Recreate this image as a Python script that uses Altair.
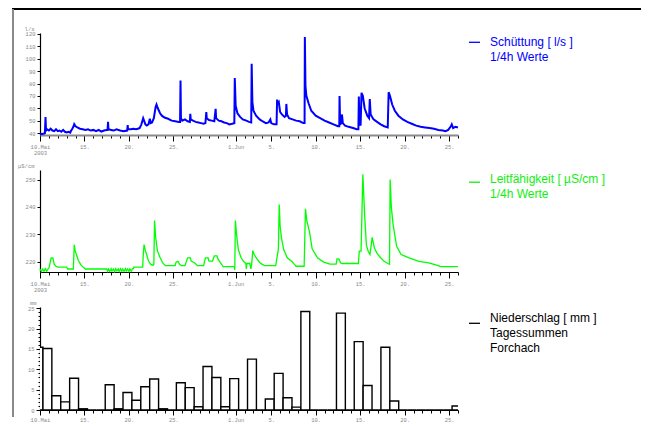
import json
import altair as alt
import pandas as pd

# ---------------------------------------------------------------- data
# time axis: days after 10 May 2003 00:00
ORIGIN = "2003-05-10"
X_END_DATE = "2003-06-26"

# Schüttung (l/s), 1/4h values (vertices)
Q_DAYS = [0.0, 0.3, 0.55, 0.62, 0.68, 0.8, 1.0, 1.2, 1.4, 1.6, 1.8, 2.0, 2.2, 2.4, 2.6, 2.8,
          3.0, 3.2, 3.4, 3.5, 3.6, 3.75, 3.85, 4.0, 4.2, 4.5, 4.8, 5.1, 5.4, 5.7, 6.0, 6.3,
          6.6, 6.9, 7.2, 7.5, 7.6, 7.65, 7.7, 8.0, 8.3, 8.6, 9.0, 9.4, 9.8, 9.86, 9.9, 10.2,
          10.5, 10.8, 11.0, 11.2, 11.4, 11.6, 11.7, 11.85, 12.0, 12.2, 12.35, 12.45, 12.6,
          12.8, 13.0, 13.1, 13.25, 13.5, 13.7, 14.0, 14.4, 14.8, 15.2, 15.6, 15.75, 15.8,
          15.85, 16.0, 16.3, 16.6, 16.85, 16.9, 16.95, 17.2, 17.5, 17.8, 18.1, 18.4, 18.6,
          18.7, 18.75, 19.0, 19.3, 19.6, 19.75, 19.8, 20.1, 20.4, 20.7, 21.0, 21.3, 21.6,
          21.85, 21.9, 22.0, 22.2, 22.5, 22.8, 23.2, 23.5, 23.75, 23.8, 23.88, 24.0, 24.3,
          24.7, 25.0, 25.4, 25.7, 25.9, 26.0, 26.3, 26.6, 26.66, 26.75, 26.85, 27.0, 27.2,
          27.5, 27.65, 27.7, 27.78, 28.0, 28.4, 28.8, 29.2, 29.6, 29.75, 29.78, 29.85, 29.95,
          30.2, 30.5, 31.0, 31.5, 32.0, 32.5, 33.0, 33.5, 33.65, 33.68, 33.75, 33.9, 33.95,
          34.05, 34.3, 34.7, 35.2, 35.6, 35.8, 35.85, 35.92, 36.05, 36.15, 36.3, 36.5, 36.8,
          37.0, 37.08, 37.18, 37.5, 37.9, 38.3, 38.7, 39.1, 39.2, 39.35, 39.6, 39.9, 40.3,
          40.8, 41.3, 41.8, 42.3, 42.8, 43.3, 43.8, 44.3, 44.8, 45.3, 45.6, 45.9, 46.2, 46.3,
          46.45, 46.7, 47.0]
Q_VALUES = [39.5, 39.2, 39.8, 53.0, 42.0, 43.0, 42.0, 43.5, 42.0, 41.5, 43.0, 41.5, 42.0, 41.0, 42.5, 41.0,
            40.5, 41.0, 40.3, 42.0, 43.0, 45.0, 47.2, 45.5, 44.5, 43.5, 43.0, 42.5, 43.0, 42.0, 42.5, 41.5,
            42.5, 41.2, 42.0, 42.5, 42.5, 49.0, 43.0, 42.5, 42.0, 43.0, 42.0, 41.5, 42.0, 46.5, 43.0, 43.0,
            43.5, 43.0, 43.5, 44.0, 47.0, 52.0, 50.0, 47.0, 46.0, 47.0, 51.5, 48.0, 48.5,
            52.0, 61.0, 63.0, 60.0, 56.0, 54.0, 52.5, 51.5, 50.0, 49.5, 49.0, 49.0, 82.5,
            52.0, 50.0, 51.0, 49.5, 49.0, 55.5, 51.0, 50.0, 49.0, 48.5, 48.0, 47.5, 48.0,
            57.0, 52.0, 50.5, 50.0, 49.5, 59.5, 52.0, 50.0, 49.5, 48.5, 48.0, 47.0, 47.5,
            48.0, 84.5, 62.0, 56.0, 53.0, 51.0, 50.0, 49.0, 48.5, 96.0, 65.0, 58.0, 54.0,
            51.0, 49.5, 48.0, 48.5, 51.0, 48.0, 47.0, 47.0, 67.0, 64.0, 65.0, 57.0, 55.0,
            53.0, 54.0, 63.5, 55.0, 52.0, 51.0, 50.0, 49.5, 48.0, 48.0, 117.5, 78.0, 70.0,
            64.0, 58.0, 54.0, 52.0, 50.0, 48.5, 47.0, 45.5, 45.5, 69.8, 47.0, 48.0, 55.0,
            48.0, 46.0, 45.0, 44.0, 43.0, 43.0, 69.5, 48.0, 46.0, 72.5, 70.0, 60.0, 54.0,
            52.0, 67.5, 55.0, 51.0, 49.0, 47.0, 45.5, 44.5, 73.0, 70.0, 63.0, 58.0, 54.0,
            51.0, 49.0, 47.5, 46.0, 45.0, 44.5, 44.0, 43.5, 42.5, 42.0, 41.5, 42.5, 45.5, 47.0,
            44.0, 45.0, 44.5]

# Leitfähigkeit (µS/cm), 1/4h values
LF_DAYS = [0.0, 0.15, 0.3, 0.45, 0.6, 0.75, 0.9, 1.0, 1.1, 1.25, 1.45, 1.6, 1.8, 2.0, 3.0, 3.1,
           3.75, 3.85, 3.95, 4.1, 4.3, 4.6, 4.9, 5.1, 7.5, 7.6, 7.7, 7.85, 8.0, 8.1, 8.25, 8.4,
           8.5, 8.65, 8.8, 8.9, 9.05, 9.2, 9.3, 9.45, 9.6, 9.7, 9.85, 10.0, 10.1, 10.25, 10.4,
           10.5, 10.55, 11.55, 11.6, 11.7, 11.85, 12.0, 12.2, 12.45, 12.7, 12.8, 12.88, 13.0,
           13.2, 13.5, 13.8, 14.1, 15.2, 15.3, 15.5, 15.7, 15.9, 16.3, 16.6, 16.9, 17.0, 17.4,
           17.7, 18.4, 18.6, 18.9, 19.0, 19.4, 19.6, 19.9, 20.0, 20.3, 20.6, 21.85, 21.9, 21.97,
           22.1, 22.3, 22.6, 22.9, 23.15, 23.2, 23.25, 23.6, 23.7, 23.8, 23.92, 24.1, 24.4,
           24.7, 25.0, 25.3, 26.5, 26.8, 26.9, 27.0, 27.15, 27.4, 27.8, 28.3, 28.6, 28.8,
           29.7, 29.85, 30.0, 30.3, 30.6, 31.2, 31.9, 32.6, 33.3, 33.4, 33.6, 33.8, 34.0,
           35.8, 35.9, 36.1, 36.3, 36.5, 36.7, 36.9, 37.1, 37.35, 37.6, 37.9, 38.3, 38.7,
           39.1, 39.3, 39.37, 39.5, 39.7, 40.1, 40.6, 41.5, 42.6, 43.7, 44.8, 45.0, 47.0]
LF_VALUES = [217.3, 216.4, 217.3, 216.5, 217.4, 216.5, 217.3, 217.5, 219.0, 221.4, 221.4, 219.0, 218.3, 218.0, 218.0, 217.3,
             217.3, 226.2, 224.0, 222.5, 220.5, 218.8, 217.8, 217.3, 217.3, 216.5, 217.3, 216.4, 217.4, 216.6, 217.3, 216.3,
             217.4, 216.6, 217.3, 216.4, 217.4, 216.5, 217.3, 216.4, 217.4, 216.6, 217.3, 216.4, 217.3, 216.5, 217.4,
             217.4, 218.0, 218.0, 222.0, 226.2, 224.0, 222.5, 220.2, 219.0, 218.7, 219.0, 235.0, 229.0,
             224.0, 221.5, 219.5, 218.5, 218.5, 219.8, 220.1, 219.0, 218.5, 218.5, 221.4, 221.4, 220.2, 219.5,
             218.5, 218.5, 221.4, 221.4, 220.2, 220.2, 222.1, 222.1, 221.0, 219.5, 218.2, 218.2, 217.0, 235.0,
             230.0, 224.4, 221.5, 220.0, 219.3, 217.3, 219.3, 219.3, 217.3, 219.0, 224.0, 222.5, 221.0,
             219.7, 219.0, 218.5, 218.5, 224.5, 240.9, 233.0, 228.7, 224.4, 221.4, 220.1, 219.0, 218.3,
             218.3, 239.3, 235.0, 231.0, 224.7, 221.4, 219.8, 219.1, 219.1, 221.0, 221.0, 219.5, 219.3,
             219.3, 223.8, 223.8, 251.9, 237.2, 226.0, 223.8, 222.6, 228.9, 225.0, 223.0, 221.4, 220.1,
             219.3, 219.0, 250.0, 240.0, 233.6, 225.6, 222.6, 221.4, 220.1, 219.5, 218.5, 218.2, 218.2]

# Niederschlag (mm), daily sums Forchach (day starting 08:00)
RAIN_FIRST_DATE = "2003-05-09"
RAIN_MM = [15.4, 15.1, 3.5, 2.0, 7.8, 0.3, 0.0, 0.0, 6.2, 0.3, 4.3, 2.4, 5.7, 7.6, 0.3, 0.0,
           6.7, 5.5, 0.8, 10.7, 8.0, 0.8, 7.7, 0.0, 12.5, 0.0, 2.7, 9.0, 3.0, 0.7, 24.2, 0.0,
           0.0, 0.0, 23.8, 0.0, 16.8, 6.0, 0.0, 15.4, 2.2, 0.0, 0.0, 0.0, 0.0, 0.0, 0.0, 1.0]
RAIN_DAY_START_HOUR = 8

TICK_DATES = ["2003-05-10", "2003-05-15", "2003-05-20", "2003-05-25", "2003-06-01",
              "2003-06-05", "2003-06-10", "2003-06-15", "2003-06-20", "2003-06-25"]
TICK_LABELS = [["10.Mai", "2003"], "15.", "20.", "25.", "1.Jun", "5.", "10.", "15.", "20.", "25."]
# the bottom panel's year line lies below the picture's edge
TICK_LABELS_BOTTOM = ["10.Mai"] + TICK_LABELS[1:]

Q_TICKS = [40, 50, 60, 70, 80, 90, 100, 110, 120]
LF_TICKS = [220, 230, 240, 250]
RAIN_TICKS = list(range(0, 26))

Q_LEGEND = ["Schüttung [ l/s ]", "1/4h Werte"]
LF_LEGEND = ["Leitfähigkeit [ µS/cm ]", "1/4h Werte"]
RAIN_LEGEND = ["Niederschlag [ mm ]", "Tagessummen", "Forchach"]

# ---------------------------------------------------------------- styling
BLUE = "#0000ff"
GREEN = "#00ff00"
GREEN_TXT = "#11ee11"
GRAY = "#8a8a8a"
MONO = "Liberation Mono"
SANS = "Liberation Sans"
W = 418

origin = pd.Timestamp(ORIGIN)
day = pd.Timedelta(days=1)
x_end = (pd.Timestamp(X_END_DATE) - origin) / day
tick_days = [int((pd.Timestamp(d) - origin) / day) for d in TICK_DATES]
all_days = list(range(0, int(x_end) + 1))

q_df = pd.DataFrame({"day": Q_DAYS, "v": Q_VALUES})
lf_df = pd.DataFrame({"day": LF_DAYS, "v": LF_VALUES})
rain_dates = pd.date_range(RAIN_FIRST_DATE, periods=len(RAIN_MM), freq="D")
rain_start = (rain_dates - origin) / day + RAIN_DAY_START_HOUR / 24
rain_df = pd.DataFrame({"start": rain_start, "end": rain_start + 1, "mm": RAIN_MM})


def make_label_expr(labels):
    expr = "''"
    for d, lab in reversed(list(zip(tick_days, labels))):
        expr = f"datum.value == {d} ? {json.dumps(lab)} : ({expr})"
    return expr


major_test = f"indexof({json.dumps(tick_days)}, datum.value) >= 0"


def x_axis(domain_color, domain_width, labels=TICK_LABELS, major=6, pad=3):
    return alt.Axis(values=all_days, labelExpr=make_label_expr(labels), labelOverlap=False,
                    labelFlush=False,
                    tickSize={"condition": {"test": major_test, "value": major}, "value": 3},
                    tickColor="black", tickWidth=1, domainColor=domain_color, domainWidth=domain_width,
                    labelFont=MONO, labelFontSize=5.5, labelColor=GRAY, labelPadding=pad,
                    labelLineHeight=6.5, labelBaseline="top", grid=False, title=None)


def y_axis(values, title, title_x, label_expr_y=None, minor=False):
    kw = dict(values=values, grid=False, domainColor="black", domainWidth=1.2, tickColor="black",
              labelFont=MONO, labelFontSize=5.5, labelColor=GRAY, labelPadding=2, format="d",
              title=title, titleAngle=0, titleAlign="right", titleBaseline="alphabetic",
              titleX=title_x, titleY=-3, titleFont=MONO, titleFontSize=5.5, titleColor=GRAY,
              titleFontWeight="normal", labelOverlap=False)
    if label_expr_y:
        kw["labelExpr"] = label_expr_y
    if minor:
        kw["tickSize"] = {"condition": {"test": "datum.value % 5 == 0", "value": 4}, "value": 2}
    else:
        kw["tickSize"] = 3
    return alt.Axis(**kw)


xs = alt.Scale(domain=[0, x_end], nice=False, zero=False)
one = pd.DataFrame({"k": [0]})


def legend_layers(lines, color, text_y, sym_y):
    txt = alt.Chart(one).mark_text(text=lines, align="left", baseline="alphabetic", font=SANS,
                                   fontSize=12, lineHeight=14.8, color=color).encode(
        x=alt.value(450), y=alt.value(text_y))
    sym = alt.Chart(one).mark_rule(color=color, strokeWidth=1.3).encode(
        x=alt.value(429), x2=alt.value(440), y=alt.value(sym_y))
    return [sym, txt]


# ---------------------------------------------------------------- top panel
q_line = alt.Chart(q_df).mark_line(color=BLUE, strokeWidth=2.0).encode(
    x=alt.X("day:Q", scale=xs, axis=x_axis("#8a8a8a", 2)),
    y=alt.Y("v:Q", scale=alt.Scale(domain=[38.4, 120.8], nice=False, zero=False),
            axis=y_axis(Q_TICKS, "l/s", -6)))
frame_top = alt.Chart(one).mark_rule(color="black", strokeWidth=2).encode(
    x=alt.value(-28), x2=alt.value(601), y=alt.value(-24))
frame_left = alt.Chart(one).mark_rule(color="#8a8a8a", strokeWidth=2).encode(
    x=alt.value(-27), y=alt.value(-24), y2=alt.value(384))
top = alt.layer(frame_top, frame_left, q_line, *legend_layers(Q_LEGEND, BLUE, 13, 9.3)).properties(
    width=W, height=102)

# ---------------------------------------------------------------- middle panel
lf_line = alt.Chart(lf_df).mark_line(color=GREEN, strokeWidth=1.3).encode(
    x=alt.X("day:Q", scale=xs, axis=x_axis("black", 1.2)),
    y=alt.Y("v:Q", scale=alt.Scale(domain=[216.2, 253.5], nice=False, zero=False),
            axis=y_axis(LF_TICKS, "µS/cm", -6)))
mid = alt.layer(lf_line, *legend_layers(LF_LEGEND, GREEN_TXT, 12.8, 12.2)).properties(
    width=W, height=102)

# ---------------------------------------------------------------- bottom panel
bars = alt.Chart(rain_df).mark_rect(fill="white", stroke="black", strokeWidth=1.4, clip=True).encode(
    x=alt.X("start:Q", scale=xs, axis=x_axis("black", 1.2, TICK_LABELS_BOTTOM, major=5, pad=2)),
    x2="end:Q",
    y=alt.Y("mm:Q", scale=alt.Scale(domain=[0, 25.3], nice=False, zero=True),
            axis=y_axis(RAIN_TICKS, "mm", -4, "datum.value % 5 == 0 ? datum.label : ''", minor=True)),
    y2=alt.datum(0))
bot = alt.layer(bars, *legend_layers(RAIN_LEGEND, "black", 15.3, 16.3)).properties(
    width=W, height=103)

chart = alt.vconcat(top, mid, bot, spacing=35, bounds="flush").properties(
    padding={"left": 3, "top": 0, "right": 0, "bottom": 0},
    background="white",
).configure_view(stroke=None)

chart.save("out.html", embed_options={"renderer": "svg", "actions": False})
